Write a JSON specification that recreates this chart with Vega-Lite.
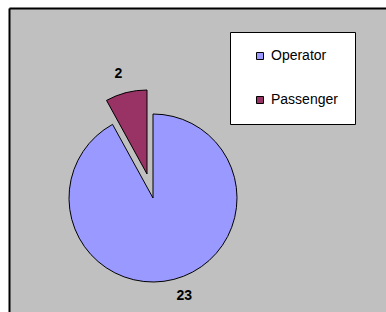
{
  "$schema": "https://vega.github.io/schema/vega-lite/v6.json",
  "width": 377,
  "height": 304,
  "autosize": "none",
  "padding": {"left": 9, "top": 8, "right": 0, "bottom": 0},
  "background": "white",
  "view": {"fill": "#C0C0C0", "stroke": null},
  "config": {
    "font": "Liberation Sans"
  },
  "data": {"values": [
    {"role": "Operator", "count": 23},
    {"role": "Passenger", "count": 2}
  ]},
  "transform": [
    {"stack": "count", "groupby": [], "sort": [{"field": "role", "order": "ascending"}], "as": ["c0", "c1"]}
  ],
  "encoding": {
    "color": {
      "field": "role",
      "type": "nominal",
      "scale": {"domain": ["Operator", "Passenger"], "range": ["#9999FF", "#993366"]},
      "legend": {
        "title": null,
        "orient": "none",
        "legendX": 221,
        "legendY": 24,
        "fillColor": "white",
        "strokeColor": "black",
        "padding": 17,
        "symbolOffset": 6,
        "symbolType": "square",
        "symbolSize": 49,
        "symbolStrokeColor": "black",
        "symbolStrokeWidth": 1,
        "symbolOpacity": 1,
        "labelFont": "Liberation Sans",
        "labelFontSize": 14,
        "labelColor": "black",
        "labelOffset": 4,
        "rowPadding": 30
      }
    }
  },
  "layer": [
    {
      "mark": {"type": "point", "opacity": 0},
      "encoding": {
        "x": {"field": "count", "type": "quantitative", "axis": {"orient": "top", "domain": true, "domainColor": "black", "domainWidth": 2, "ticks": false, "labels": false, "grid": false, "title": null}},
        "y": {"field": "count", "type": "quantitative", "axis": {"orient": "left", "domain": true, "domainColor": "black", "domainWidth": 2, "ticks": false, "labels": false, "grid": false, "title": null}},
        "color": {"value": "transparent"}
      }
    },
    {
      "transform": [{"filter": "datum.role === 'Operator'"}],
      "mark": {"type": "arc", "outerRadius": 84, "stroke": "black", "strokeWidth": 1, "opacity": 1, "xOffset": -44.5, "yOffset": 38},
      "encoding": {
        "theta": {"field": "c0", "type": "quantitative", "scale": {"domain": [0, 25]}},
        "theta2": {"field": "c1"}
      }
    },
    {
      "transform": [{"filter": "datum.role === 'Passenger'"}],
      "mark": {"type": "arc", "outerRadius": 84, "stroke": "black", "strokeWidth": 1, "opacity": 1, "xOffset": -50.5, "yOffset": 14},
      "encoding": {
        "theta": {"field": "c0", "type": "quantitative", "scale": {"domain": [0, 25]}},
        "theta2": {"field": "c1"}
      }
    },
    {
      "mark": {"type": "text", "radius": 102, "xOffset": -38.5, "yOffset": 37, "fontSize": 14, "fontWeight": "bold"},
      "encoding": {
        "theta": {"field": "count", "type": "quantitative", "stack": true, "scale": {"domain": [0, 25]}},
        "detail": {"field": "role", "type": "nominal"},
        "order": {"field": "role", "type": "nominal"},
        "color": {"value": "black"},
        "text": {"condition": {"test": "datum.role === 'Operator'", "field": "count", "type": "quantitative"}, "value": ""}
      }
    },
    {
      "mark": {"type": "text", "radius": 103, "xOffset": -53.5, "yOffset": 14, "fontSize": 14, "fontWeight": "bold"},
      "encoding": {
        "theta": {"field": "count", "type": "quantitative", "stack": true, "scale": {"domain": [0, 25]}},
        "detail": {"field": "role", "type": "nominal"},
        "order": {"field": "role", "type": "nominal"},
        "color": {"value": "black"},
        "text": {"condition": {"test": "datum.role === 'Passenger'", "field": "count", "type": "quantitative"}, "value": ""}
      }
    }
  ]
}
